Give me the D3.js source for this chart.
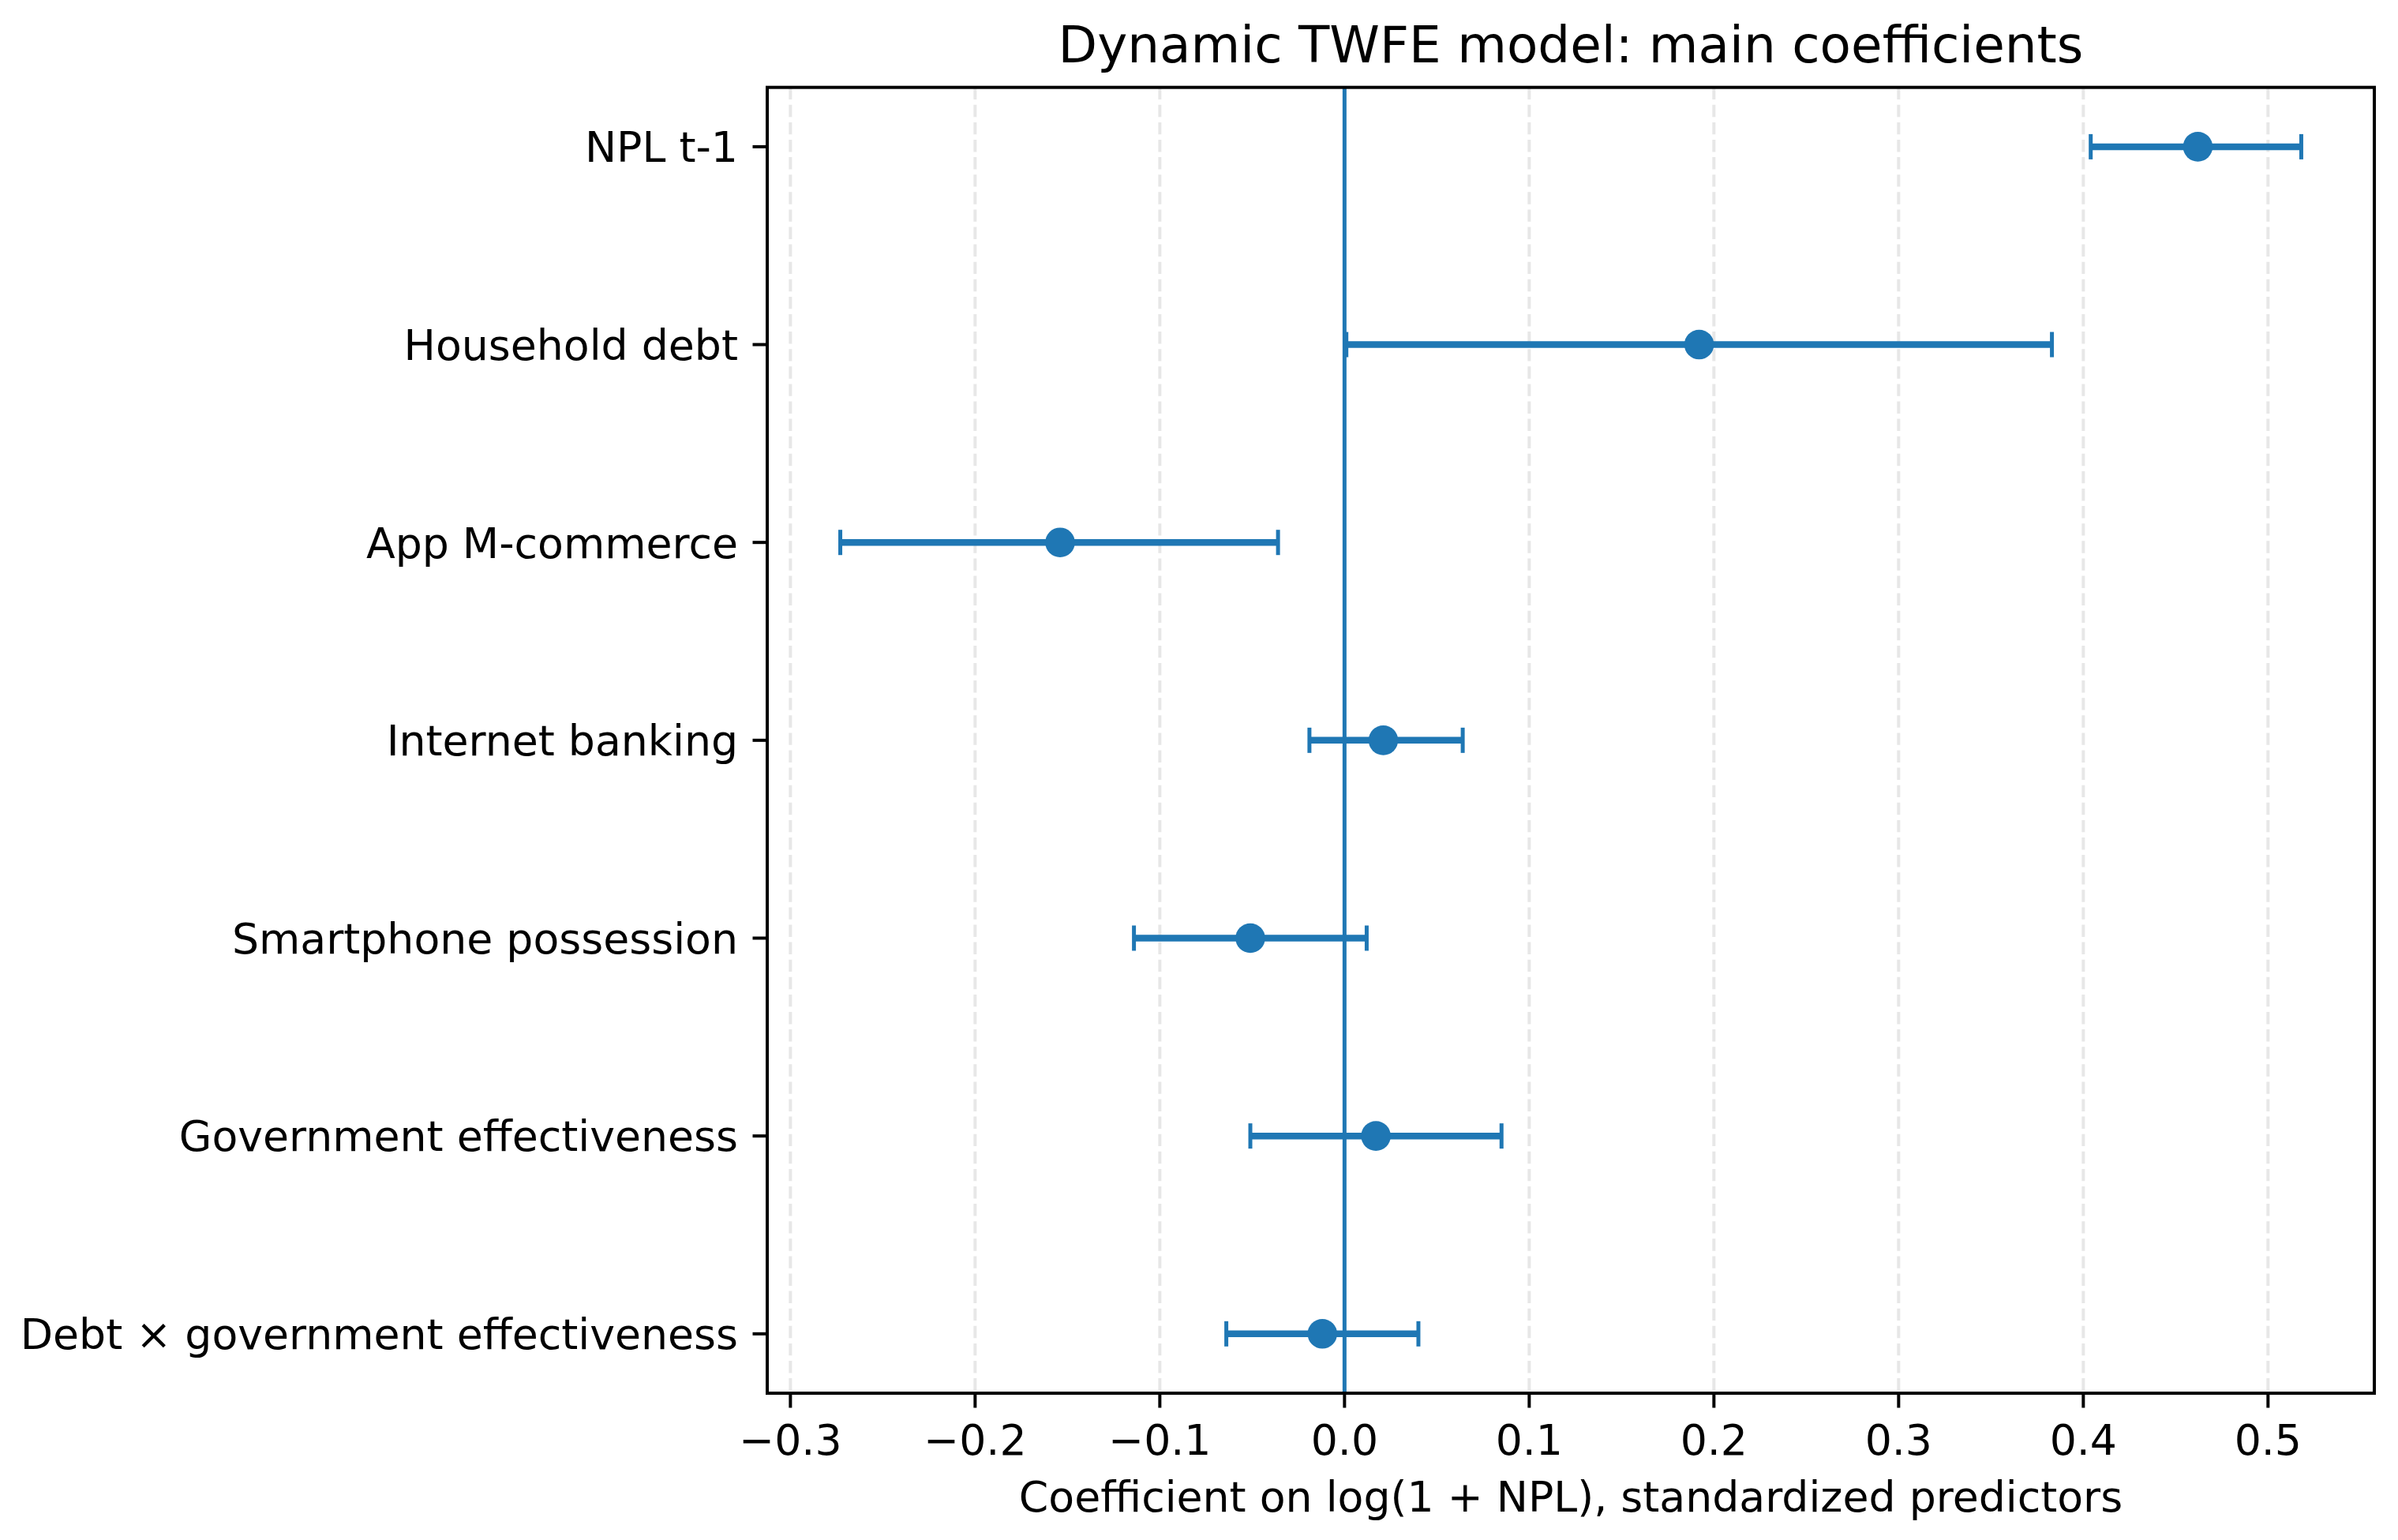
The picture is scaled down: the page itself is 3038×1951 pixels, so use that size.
<!DOCTYPE html>
<html>
<head>
<meta charset="utf-8">
<script src="https://cdn.jsdelivr.net/npm/d3@7"></script>
<style>
  body { margin: 0; background: #fff; }
  text { font-family: "DejaVu Sans", sans-serif; fill: #000; }
</style>
</head>
<body>
<div id="chart"></div>
<script>
// values
const labels = ["NPL t-1", "Household debt", "App M-commerce", "Internet banking",
                "Smartphone possession", "Government effectiveness", "Debt × government effectiveness"];
const coefs  = [0.462, 0.192, -0.154, 0.021, -0.051, 0.017, -0.012];
const ciLow  = [0.404, 0.001, -0.273, -0.019, -0.114, -0.051, -0.064];
const ciHigh = [0.518, 0.383, -0.036, 0.064, 0.012, 0.085, 0.040];
const xTicks = [-0.3, -0.2, -0.1, 0.0, 0.1, 0.2, 0.3, 0.4, 0.5];

const W = 3038, H = 1951;
const margin = {top: 110.7, right: 30, bottom: 186, left: 972};
const width = W - margin.left - margin.right;
const height = H - margin.top - margin.bottom;
const blue = "#1f77b4";
const fs = 53.7;

const svg = d3.select("#chart").append("svg")
    .attr("width", W).attr("height", H);
const g = svg.append("g")
    .attr("transform", "translate(" + margin.left + "," + margin.top + ")");

// scales, matplotlib-style 5% padding
const lo = d3.min(ciLow), hi = d3.max(ciHigh);
const pad = (hi - lo) * 0.05;
const x = d3.scaleLinear().domain([lo - pad, hi + pad]).range([0, width]);
const n = labels.length;
const y = d3.scaleLinear().domain([-0.3, n - 1 + 0.3]).range([0, height]);

// grid
g.append("g").selectAll("line").data(xTicks).enter().append("line")
    .attr("x1", d => x(d)).attr("x2", d => x(d))
    .attr("y1", 0).attr("y2", height)
    .attr("stroke", "#b0b0b0").attr("stroke-opacity", 0.3)
    .attr("stroke-width", 4).attr("stroke-dasharray", "15.4,6.7");

// zero line
g.append("line")
    .attr("x1", x(0)).attr("x2", x(0)).attr("y1", 0).attr("y2", height)
    .attr("stroke", blue).attr("stroke-width", 5);

// error bars
const rows = labels.map((l, i) => ({label: l, c: coefs[i], lo: ciLow[i], hi: ciHigh[i], i: i}));
const bars = g.append("g").selectAll("g").data(rows).enter().append("g");
bars.append("line")
    .attr("x1", d => x(d.lo)).attr("x2", d => x(d.hi))
    .attr("y1", d => y(d.i)).attr("y2", d => y(d.i))
    .attr("stroke", blue).attr("stroke-width", 8.5);
bars.selectAll(".cap").data(d => [[d.lo, d.i], [d.hi, d.i]]).enter().append("line")
    .attr("class", "cap")
    .attr("x1", d => x(d[0])).attr("x2", d => x(d[0]))
    .attr("y1", d => y(d[1]) - 16).attr("y2", d => y(d[1]) + 16)
    .attr("stroke", blue).attr("stroke-width", 5);
bars.append("circle")
    .attr("cx", d => x(d.c)).attr("cy", d => y(d.i))
    .attr("r", 18.8).attr("fill", blue);

// frame
g.append("rect").attr("width", width).attr("height", height)
    .attr("fill", "none").attr("stroke", "#000").attr("stroke-width", 4);

// x axis
const xa = g.append("g").attr("transform", "translate(0," + height + ")");
xa.selectAll("line").data(xTicks).enter().append("line")
    .attr("x1", d => x(d)).attr("x2", d => x(d))
    .attr("y1", 0).attr("y2", 18.5)
    .attr("stroke", "#000").attr("stroke-width", 4);
xa.selectAll("text").data(xTicks).enter().append("text")
    .attr("x", d => x(d)).attr("y", 78)
    .attr("text-anchor", "middle").attr("font-size", fs)
    .text(d => d3.format(".1f")(d));

// y axis
const ya = g.append("g");
ya.selectAll("line").data(rows).enter().append("line")
    .attr("x1", -18.5).attr("x2", 0)
    .attr("y1", d => y(d.i)).attr("y2", d => y(d.i))
    .attr("stroke", "#000").attr("stroke-width", 4);
ya.selectAll("text").data(rows).enter().append("text")
    .attr("x", -37).attr("y", d => y(d.i)).attr("dy", "0.36em")
    .attr("text-anchor", "end").attr("font-size", fs)
    .text(d => d.label);

// labels
g.append("text")
    .attr("x", width / 2).attr("y", height + 150)
    .attr("text-anchor", "middle").attr("font-size", fs)
    .text("Coefficient on log(1 + NPL), standardized predictors");
g.append("text")
    .attr("x", width / 2).attr("y", -32)
    .attr("text-anchor", "middle").attr("font-size", 64.4)
    .text("Dynamic TWFE model: main coefficients");
</script>
</body>
</html>
